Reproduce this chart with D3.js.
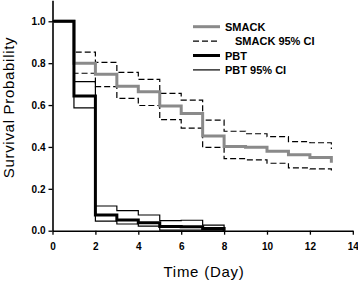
<!DOCTYPE html>
<html lang="en">
<head>
    <meta charset="UTF-8">
    <script src="https://d3js.org/d3.v7.min.js"></script>
    <style>
        body { margin: 0; background: #fff; }
        text { font-family: Arial, "Liberation Sans", sans-serif; }
    </style>
</head>
<body>
    <svg id="survival" width="358" height="281"></svg>
    <script>
        // Kaplan-Meier values
        const smackDays = [0, 1, 2, 3, 4, 5, 6, 7, 8, 9, 10, 11, 12, 13];
        const smack      = [1.0, 0.80, 0.747, 0.69, 0.663, 0.595, 0.56, 0.452, 0.402, 0.398, 0.38, 0.363, 0.35, 0.325];
        const smackUpper = [1.0, 0.853, 0.804, 0.756, 0.723, 0.656, 0.624, 0.528, 0.475, 0.463, 0.449, 0.425, 0.42, 0.39];
        const smackLower = [1.0, 0.752, 0.688, 0.632, 0.598, 0.53, 0.49, 0.398, 0.344, 0.338, 0.322, 0.30, 0.295, 0.287];

        const pbtDays = [0, 1, 2, 3, 4, 5, 6, 7, 8];
        const pbt      = [1.0, 0.643, 0.075, 0.051, 0.038, 0.02, 0.019, 0.011, 0];
        const pbtUpper = [1.0, 0.712, 0.118, 0.096, 0.075, 0.048, 0.05, 0.027, 0];
        const pbtLower = [1.0, 0.587, 0.046, 0.032, 0.022, 0.003, 0.003, 0.003, 0];

        const xTicks = [0, 2, 4, 6, 8, 10, 12, 14];
        const yTicks = [0, 0.2, 0.4, 0.6, 0.8, 1.0];

        const legendItems = ["SMACK", "SMACK 95% CI", "PBT", "PBT 95% CI"];

        const svg = d3.select("svg#survival");
        const margin = { top: 0, left: 52.5, bottom: 50 };
        const plotBottom = 230.7;

        const x = d3.scaleLinear().domain([0, 14]).range([margin.left, 352.8]);
        const y = d3.scaleLinear().domain([0, 1.1]).range([plotBottom, plotBottom - 1.1 * 209.4]);

        // Axes
        const xAxis = svg.append("g")
            .attr("transform", `translate(0,${plotBottom})`)
            .call(d3.axisBottom(x).tickValues(xTicks).tickSize(4).tickSizeOuter(0).tickPadding(8).tickFormat(d3.format("d")));
        const yAxis = svg.append("g")
            .attr("transform", `translate(${margin.left},0)`)
            .call(d3.axisLeft(y).tickValues(yTicks).tickSize(4).tickSizeOuter(0).tickPadding(3).tickFormat(d3.format(".1f")));

        [xAxis, yAxis].forEach(a => {
            a.select(".domain").attr("stroke", "#000").attr("stroke-width", 1.6);
            a.selectAll(".tick line").attr("stroke", "#000").attr("stroke-width", 1.3);
            a.selectAll(".tick text")
                .attr("fill", "#000")
                .style("font-family", "Arial, 'Liberation Sans', sans-serif")
                .style("font-size", "10px")
                .style("font-weight", "bold");
        });

        // Step curves
        const step = d3.line()
            .x(d => x(d[0]))
            .y(d => y(d[1]))
            .curve(d3.curveStepAfter);

        const lines = svg.append("g").attr("id", "curves");

        function drawCurve(days, vals, color, width, dash) {
            lines.append("path")
                .datum(days.map((d, i) => [d, vals[i]]))
                .attr("d", step)
                .attr("fill", "none")
                .attr("stroke", color)
                .attr("stroke-width", width)
                .attr("stroke-dasharray", dash || null);
        }

        drawCurve(smackDays, smackUpper, "#000", 1.2, "6,3");
        drawCurve(smackDays, smackLower, "#000", 1.2, "6,3");
        drawCurve(smackDays, smack, "#8a8a8a", 3);
        drawCurve(pbtDays, pbtUpper, "#000", 1.2);
        drawCurve(pbtDays, pbtLower, "#000", 1.2);
        drawCurve(pbtDays, pbt, "#000", 3);

        // Axis titles
        svg.append("text")
            .attr("x", 204)
            .attr("y", 276.7)
            .attr("text-anchor", "middle")
            .style("font-size", "15px")
            .style("letter-spacing", "0.75px")
            .text("Time (Day)");

        svg.append("text")
            .attr("transform", "translate(13.5,107.5) rotate(-90)")
            .attr("text-anchor", "middle")
            .style("font-size", "15px")
            .style("letter-spacing", "0.7px")
            .text("Survival Probability");

        // Legend
        const legendStyles = [
            { color: "#8a8a8a", width: 3, dash: null, textX: 225 },
            { color: "#000", width: 1.2, dash: "6,3", textX: 235 },
            { color: "#000", width: 3, dash: null, textX: 225 },
            { color: "#000", width: 1.2, dash: null, textX: 225 }
        ];
        const legend = svg.append("g").attr("class", "legend");
        legendItems.forEach((d, i) => {
            const ly = 26.7 + i * 14.4;
            const s = legendStyles[i];
            legend.append("line")
                .attr("x1", 193).attr("x2", 220)
                .attr("y1", ly).attr("y2", ly)
                .attr("stroke", s.color)
                .attr("stroke-width", s.width)
                .attr("stroke-dasharray", s.dash);
            legend.append("text")
                .attr("x", s.textX)
                .attr("y", ly + 4)
                .style("font-size", "11px")
                .style("font-weight", "bold")
                .text(d);
        });
    </script>
</body>
</html>
